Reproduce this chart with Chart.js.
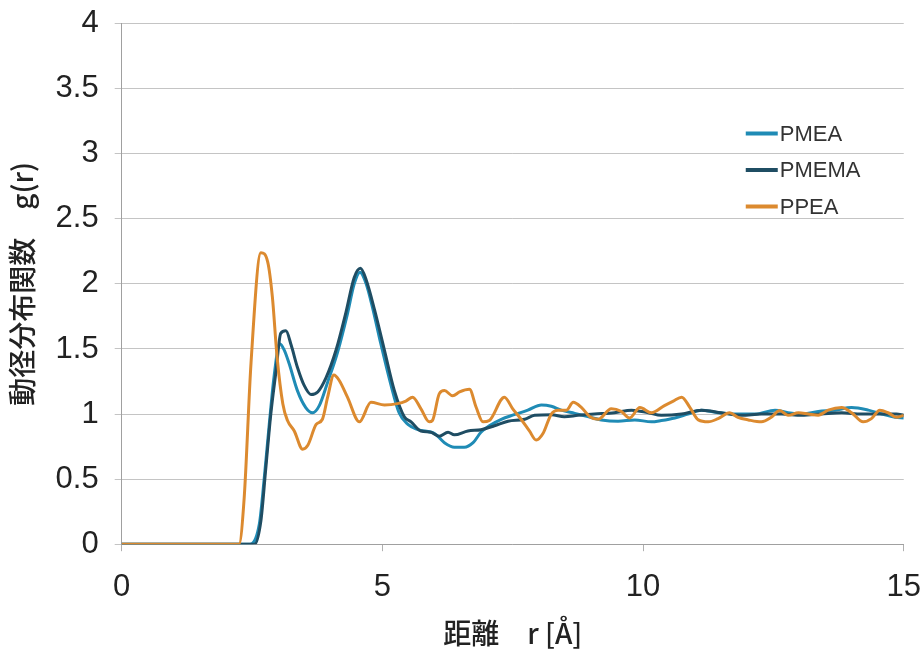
<!DOCTYPE html>
<html>
<head>
<meta charset="utf-8">
<script src="https://cdn.jsdelivr.net/npm/chart.js@4.4.1/dist/chart.umd.min.js"></script>
<style>
  html, body { margin: 0; padding: 0; background: #ffffff; overflow: hidden; }
  #wrap { position: absolute; left: 0; top: -11px; width: 939px; height: 663px; }
</style>
</head>
<body>
<div id="wrap"><canvas id="rdf"></canvas></div>
<script>
// radial distribution functions
const seriesNames = ["PMEA", "PMEMA", "PPEA"];

const pmeaR = [0, 2.46, 2.64, 2.73, 2.83, 2.92, 3.03, 3.12, 3.21, 3.37, 3.53, 3.66, 3.79, 3.95, 4.14, 4.33, 4.46, 4.57, 4.69, 4.81, 4.97, 5.16, 5.32, 5.49, 5.68, 6.0, 6.19, 6.38, 6.57, 6.74, 6.89, 7.05, 7.28, 7.53, 7.79, 8.05, 8.24, 8.43, 8.69, 8.94, 9.2, 9.52, 9.84, 10.16, 10.35, 10.61, 10.86, 11.12, 11.44, 11.82, 12.15, 12.53, 12.78, 13.04, 13.36, 13.68, 14.0, 14.32, 14.58, 14.83, 15];
const pmeaG = [0, 0, 0.155, 0.49, 0.92, 1.28, 1.54, 1.49, 1.39, 1.18, 1.05, 1.01, 1.065, 1.245, 1.475, 1.77, 2.0, 2.09, 2.0, 1.82, 1.54, 1.23, 1.01, 0.92, 0.88, 0.85, 0.78, 0.745, 0.745, 0.78, 0.86, 0.91, 0.96, 0.995, 1.03, 1.07, 1.06, 1.03, 1.005, 0.98, 0.955, 0.945, 0.955, 0.94, 0.95, 0.97, 1.0, 1.03, 1.01, 1.0, 1.0, 1.03, 1.01, 1.0, 1.02, 1.03, 1.05, 1.03, 1.0, 0.975, 0.97];

const pmemaR = [0, 2.55, 2.67, 2.76, 2.86, 2.96, 3.05, 3.15, 3.25, 3.37, 3.5, 3.63, 3.76, 3.92, 4.11, 4.3, 4.46, 4.58, 4.69, 4.85, 5.04, 5.23, 5.42, 5.55, 5.74, 5.93, 6.09, 6.26, 6.38, 6.64, 6.89, 7.15, 7.41, 7.73, 7.92, 8.24, 8.49, 8.75, 9.07, 9.45, 9.78, 10.1, 10.35, 10.74, 11.12, 11.5, 11.89, 12.27, 12.66, 13.04, 13.42, 13.81, 14.19, 14.58, 14.86, 15];
const pmemaG = [0, 0, 0.18, 0.565, 1.0, 1.33, 1.62, 1.64, 1.53, 1.36, 1.22, 1.15, 1.17, 1.28, 1.49, 1.78, 2.05, 2.12, 2.03, 1.8, 1.49, 1.18, 0.98, 0.94, 0.87, 0.86, 0.83, 0.86, 0.84, 0.87, 0.88, 0.91, 0.945, 0.96, 0.99, 0.995, 0.98, 0.99, 1.0, 1.01, 1.03, 1.01, 0.99, 1.0, 1.03, 1.01, 0.99, 1.0, 1.0, 0.99, 1.0, 1.01, 1.0, 1.0, 1.0, 0.99];

const ppeaR = [0, 2.25, 2.35, 2.48, 2.67, 2.8, 2.89, 2.98, 3.09, 3.18, 3.31, 3.47, 3.57, 3.73, 3.85, 3.95, 4.07, 4.17, 4.33, 4.56, 4.78, 5.04, 5.29, 5.45, 5.58, 5.74, 5.9, 5.96, 6.09, 6.19, 6.35, 6.48, 6.67, 6.8, 6.93, 7.05, 7.34, 7.5, 7.66, 7.82, 7.95, 8.08, 8.24, 8.37, 8.53, 8.66, 8.82, 8.98, 9.14, 9.39, 9.58, 9.74, 9.94, 10.16, 10.41, 10.58, 10.74, 10.9, 11.06, 11.25, 11.44, 11.66, 11.82, 12.02, 12.27, 12.46, 12.62, 12.78, 12.98, 13.17, 13.36, 13.55, 13.81, 14.0, 14.22, 14.38, 14.54, 14.7, 14.86, 15];
const ppeaG = [0, 0, 0.36, 1.39, 2.24, 2.17, 1.9, 1.44, 1.08, 0.95, 0.87, 0.73, 0.76, 0.92, 0.96, 1.13, 1.3, 1.26, 1.13, 0.94, 1.09, 1.07, 1.08, 1.1, 1.13, 1.04, 0.94, 0.95, 1.155, 1.18, 1.14, 1.17, 1.19, 1.05, 0.94, 0.95, 1.13, 1.04, 0.96, 0.87, 0.8, 0.85, 1.0, 1.03, 1.03, 1.09, 1.05, 0.98, 0.96, 1.04, 1.02, 0.97, 1.05, 1.01, 1.065, 1.1, 1.13, 1.05, 0.955, 0.94, 0.965, 1.01, 0.975, 0.955, 0.94, 0.975, 1.027, 0.99, 1.01, 1.0, 0.99, 1.03, 1.05, 1.01, 0.94, 0.965, 1.03, 1.01, 0.975, 0.99];

const xTicks = [0, 5, 10, 15];
const yTicks = [0, 0.5, 1, 1.5, 2, 2.5, 3, 3.5, 4];

const colors = ["#1f8bb5", "#1f4d63", "#dc8a2f"];

function toPoints(rs, gs) {
  return rs.map(function (r, i) {
    return { x: r, y: gs[i] };
  });
}

const tickFont = { family: "'Liberation Sans', Arial, sans-serif", size: 31 };
const titleFont = { family: "'Noto Sans CJK JP', sans-serif", size: 28, weight: 500 };

// legend sits inside the plot, upper right
const insideLegend = {
  id: "insideLegend",
  afterDraw(chart) {
    const ctx = chart.ctx;
    const x0 = chart.chartArea.right - 158;
    const y0 = chart.chartArea.top + 110;
    ctx.save();
    ctx.font = "22px 'Liberation Sans', Arial, sans-serif";
    ctx.textBaseline = "middle";
    chart.data.datasets.forEach(function (ds, i) {
      const y = y0 + i * 36.5;
      ctx.strokeStyle = ds.borderColor;
      ctx.lineWidth = 4;
      ctx.beginPath();
      ctx.moveTo(x0, y);
      ctx.lineTo(x0 + 32, y);
      ctx.stroke();
      ctx.fillStyle = "#333333";
      ctx.fillText(ds.label, x0 + 34, y + 1);
    });
    ctx.restore();
  },
};

function lineSet(i, rs, gs, order) {
  return {
    label: seriesNames[i],
    data: toPoints(rs, gs),
    borderColor: colors[i],
    borderWidth: 3,
    pointRadius: 0,
    cubicInterpolationMode: "monotone",
    order: order,
  };
}

new Chart(document.getElementById("rdf"), {
  type: "line",
  data: {
    datasets: [
      lineSet(0, pmeaR, pmeaG, 2),
      lineSet(1, pmemaR, pmemaG, 1),
      lineSet(2, ppeaR, ppeaG, 0),
    ],
  },
  options: {
    responsive: true,
    maintainAspectRatio: false,
    animation: false,
    layout: { padding: { top: 0, right: 0, left: 6, bottom: 2 } },
    plugins: {
      legend: { display: false },
      tooltip: { enabled: false },
    },
    scales: {
      x: {
        type: "linear",
        min: 0,
        max: 15,
        afterBuildTicks: function (scale) {
          scale.ticks = xTicks.map(function (v) { return { value: v }; });
        },
        grid: {
          display: true,
          drawOnChartArea: false,
          drawTicks: true,
          tickLength: 7,
          color: "#b0b0b0",
        },
        border: { color: "#a0a0a0" },
        ticks: { font: tickFont, color: "#222222", padding: 18, maxRotation: 0 },
        title: {
          display: true,
          text: "距離　r [Å]",
          font: titleFont,
          color: "#222222",
          padding: { top: -8, bottom: 0 },
        },
      },
      y: {
        min: 0,
        max: 4,
        afterBuildTicks: function (scale) {
          scale.ticks = yTicks.map(function (v) { return { value: v }; });
        },
        grid: {
          color: "#c4c4c4",
          tickLength: 7,
        },
        border: { color: "#a0a0a0" },
        ticks: {
          font: tickFont,
          color: "#222222",
          padding: 16,
          callback: function (value) { return String(value); },
        },
        title: {
          display: true,
          text: "動径分布関数　g(r)",
          font: titleFont,
          color: "#222222",
          padding: { top: 0, bottom: 0 },
        },
      },
    },
  },
  plugins: [insideLegend],
});
</script>
</body>
</html>
